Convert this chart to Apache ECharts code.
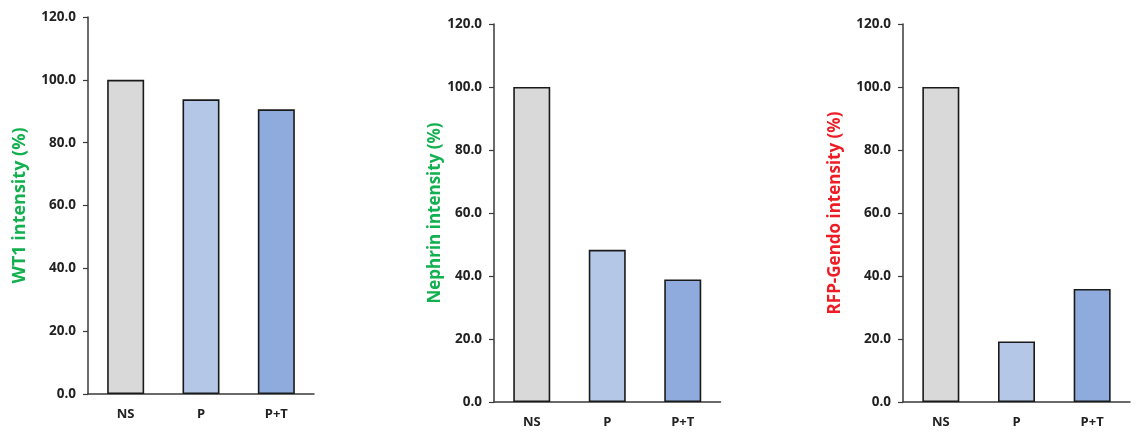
<!DOCTYPE html>
<html>
<head>
<meta charset="utf-8">
<script src="https://cdn.jsdelivr.net/npm/echarts@6/dist/echarts.min.js"></script>
<style>html,body{margin:0;padding:0;background:#fff;}#c{width:1141px;height:436px;}</style>
</head>
<body>
<div id="c"></div>
<script>
var categories = ['NS', 'P', 'P+T'];
var wt1Values = [100.0, 93.8, 90.6];
var nephrinValues = [100.0, 48.3, 38.9];
var rfpValues = [100.0, 19.2, 35.9];
var yTicks = [0, 20, 40, 60, 80, 100, 120];
var panelNames = ['WT1 intensity (%)', 'Nephrin intensity (%)', 'RFP-Gendo intensity (%)'];

var barColors = ['#d9d9d9', '#b4c7e7', '#8faadc'];
var font = '"Open Sans", "Noto Sans", sans-serif';
var axisColor = '#3a3a3a';

var grids = [
  {left: 88, top: 17, width: 226, height: 377},
  {left: 494, top: 24, width: 226.5, height: 378},
  {left: 903, top: 24, width: 227, height: 378}
];
var nameStyles = [
  {color: '#12b04f', size: 18, gap: 59},
  {color: '#12b04f', size: 17, gap: 49},
  {color: '#ee1c25', size: 17, gap: 59}
];
var seriesValues = [wt1Values, nephrinValues, rfpValues];

var xAxes = [], yAxes = [], series = [];
for (var i = 0; i < 3; i++) {
  xAxes.push({
    type: 'category', gridIndex: i, data: categories,
    axisLine: {show: true, lineStyle: {color: axisColor, width: 1.5}},
    axisTick: {show: false},
    axisLabel: {color: '#222', fontFamily: font, fontWeight: 'bold', fontSize: 13, margin: 14}
  });
  yAxes.push({
    type: 'value', gridIndex: i, min: yTicks[0], max: yTicks[yTicks.length - 1], interval: yTicks[1] - yTicks[0],
    name: panelNames[i], nameLocation: 'middle', nameRotate: 90, nameGap: nameStyles[i].gap,
    nameTextStyle: {color: nameStyles[i].color, fontFamily: font, fontWeight: 'bold', fontSize: nameStyles[i].size},
    axisLine: {show: true, lineStyle: {color: axisColor, width: 1.5}},
    axisTick: {show: true, length: 5, lineStyle: {color: axisColor, width: 1.2}},
    splitLine: {show: false},
    axisLabel: {color: '#222', fontFamily: font, fontWeight: 'bold', fontSize: 13.5, margin: 12,
      formatter: function (v) { return v.toFixed(1); }}
  });
  series.push({
    type: 'bar', xAxisIndex: i, yAxisIndex: i, barWidth: 37,
    data: seriesValues[i].map(function (v, k) {
      return {value: v, itemStyle: {color: barColors[k]}};
    }),
    itemStyle: {borderColor: '#1a1a1a', borderWidth: 1.6},
    emphasis: {disabled: true},
    animation: false
  });
}

var chart = echarts.init(document.getElementById('c'));
chart.setOption({
  animation: false,
  grid: grids,
  xAxis: xAxes,
  yAxis: yAxes,
  series: series
});
</script>
</body>
</html>
